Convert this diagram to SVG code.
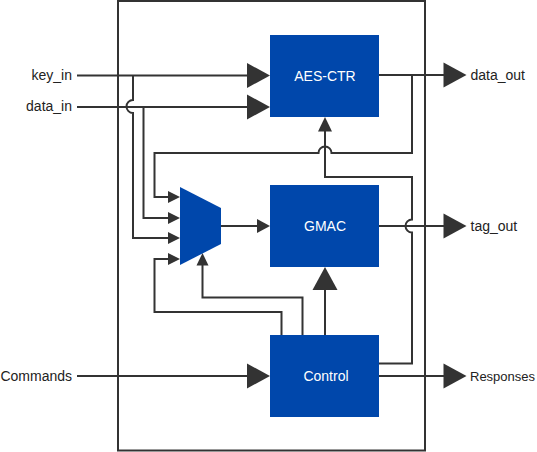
<svg xmlns="http://www.w3.org/2000/svg" width="537" height="452" viewBox="0 0 537 452">
<style>
.box{fill:#0047AB;}
.w{fill:none;stroke:#333;stroke-width:2;}
.ah{fill:#333;}
.lbl{font-family:"Liberation Sans",Arial,sans-serif;font-size:14px;fill:#222;}
.bl{font-family:"Liberation Sans",Arial,sans-serif;font-size:14px;fill:#fff;text-anchor:middle;}
</style>
<rect x="0" y="0" width="537" height="452" fill="#fff"/>
<rect x="118" y="1" width="307" height="449.5" fill="none" stroke="#333" stroke-width="2"/>
<g id="connectors">
<!-- key_in -->
<path class="w" d="M77,75.5 H248"/>
<polygon class="ah" points="247,63 270,75.5 247,88"/>
<path class="w" d="M133,75.5 V100 A6.5,6.5 0 0 0 133,113 V238 H170"/>
<!-- data_in -->
<path class="w" d="M77,107 H248"/>
<polygon class="ah" points="247,94.5 270,107 247,119.5"/>
<path class="w" d="M143.5,107 V218 H170"/>
<!-- feedback from AES-CTR out -->
<path class="w" d="M379,75 H444"/>
<polygon class="ah" points="443.5,62.5 466.5,75 443.5,87.5"/>
<path class="w" d="M412,75 V153 H331.5 A6.5,6.5 0 0 0 318.5,153 H154.5 V197 H170"/>
<!-- mux input arrows -->
<polygon class="ah" points="168,191 180,197 168,203"/>
<polygon class="ah" points="168,212 180,218 168,224"/>
<polygon class="ah" points="168,232 180,238 168,244"/>
<polygon class="ah" points="168,253 180,259 168,265"/>
<!-- mux to GMAC -->
<path class="w" d="M221,226 H258"/>
<polygon class="ah" points="257,219 270,226 257,233"/>
<!-- GMAC to tag_out -->
<path class="w" d="M379,226 H444"/>
<polygon class="ah" points="443.5,213.5 466.5,226 443.5,238.5"/>
<!-- Control to AES-CTR via right side -->
<path class="w" d="M379,363.5 H412 V232.5 A6.5,6.5 0 0 1 412,219.5 V177 H325 V130"/>
<polygon class="ah" points="318,131.5 325,117 332,131.5"/>
<!-- Control to GMAC -->
<path class="w" d="M325,335 V289"/>
<polygon class="ah" points="312.5,290 325,267 337.5,290"/>
<!-- Control to mux select -->
<path class="w" d="M302.5,335 V297.5 H202.5 V264"/>
<polygon class="ah" points="196.5,265.5 202.5,253 208.5,265.5"/>
<!-- Control to mux input 4 -->
<path class="w" d="M281.5,335 V312 H154.5 V259 H170"/>
<!-- Commands -->
<path class="w" d="M77,376 H248"/>
<polygon class="ah" points="247,363.5 270,376 247,388.5"/>
<!-- Responses -->
<path class="w" d="M379,376 H444"/>
<polygon class="ah" points="443.5,363.5 466.5,376 443.5,388.5"/>
</g>
<g id="aes-ctr">
<rect class="box" x="270" y="35" width="109" height="82"/>
<text class="bl" x="325" y="81">AES-CTR</text>
</g>
<g id="gmac">
<rect class="box" x="270" y="185" width="109" height="82"/>
<text class="bl" x="325" y="231">GMAC</text>
</g>
<g id="control">
<rect class="box" x="270" y="335" width="109" height="82"/>
<text class="bl" x="326" y="381">Control</text>
</g>
<g id="mux">
<polygon class="box" points="180,187 221,208 221,244 180,265"/>
</g>
<g id="labels">
<text class="lbl" x="72" y="80" text-anchor="end">key_in</text>
<text class="lbl" x="72" y="111" text-anchor="end">data_in</text>
<text class="lbl" x="72" y="381" text-anchor="end">Commands</text>
<text class="lbl" x="470.5" y="80">data_out</text>
<text class="lbl" x="470.5" y="231">tag_out</text>
<text class="lbl" x="470" y="380.5" style="font-size:13px">Responses</text>
</g>
</svg>
